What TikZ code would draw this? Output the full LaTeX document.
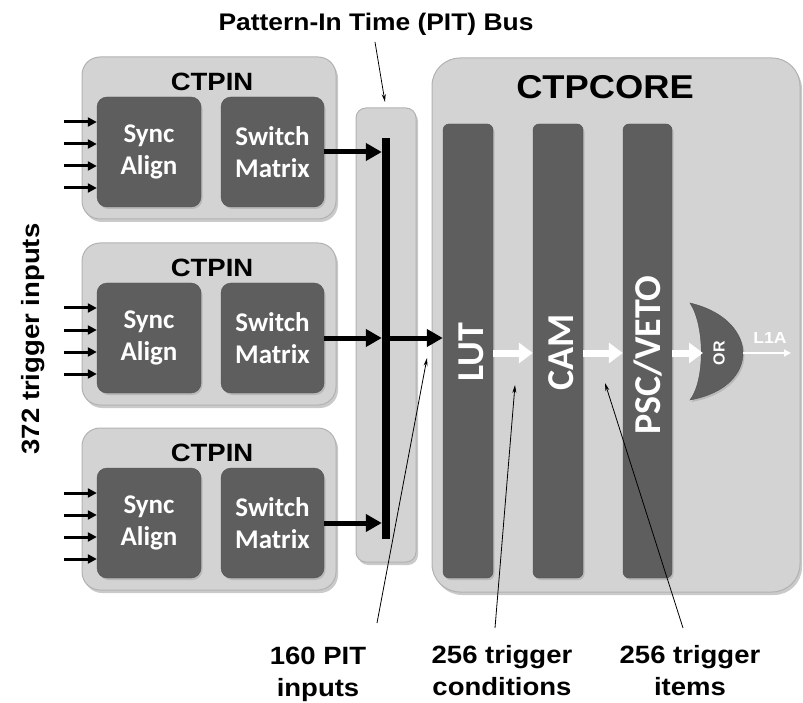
\documentclass[tikz,border=0pt]{standalone}
\usepackage{fontspec}
\setmainfont{Liberation Sans}
\newfontfamily\calfont{Carlito}
\newfontfamily\widefont{Liberation Sans}[FakeStretch=1.1]
\usetikzlibrary{arrows.meta,shadows}
\definecolor{panel}{HTML}{D3D3D3}
\definecolor{paneledge}{HTML}{B2B2B2}
\definecolor{block}{HTML}{5E5E5E}
\definecolor{blockedge}{HTML}{505050}

\begin{document}
\begin{tikzpicture}[x=1pt,y=-1pt,
  panelbox/.style={draw=paneledge, line width=1pt, fill=panel, inner sep=0pt,
    drop shadow={shadow xshift=2pt, shadow yshift=-3pt, opacity=0.35, fill=black!60}},
  blockbox/.style={draw=blockedge, fill=block, rounded corners=10pt, inner sep=0pt,
    text=white, align=center, font=\calfont\bfseries\fontsize{27}{32}\selectfont,
    drop shadow={shadow xshift=1.5pt, shadow yshift=-2pt, opacity=0.3}},
  colbox/.style={draw=blockedge, fill=block, rounded corners=6pt, inner sep=0pt,
    minimum width=50pt, minimum height=454pt,
    drop shadow={shadow xshift=1.5pt, shadow yshift=-2pt, opacity=0.3}},
  coltext/.style={rotate=90, text=white, inner sep=0pt,
    font=\calfont\bfseries\fontsize{38}{40}\selectfont},
  ctitle/.style={font=\widefont\bfseries\fontsize{25}{28}\selectfont},
  lbl/.style={font=\widefont\bfseries\fontsize{25}{32}\selectfont, align=center},
  inarrow/.style={line width=3pt, -{Triangle[length=9pt,width=9pt]}},
  busarrow/.style={line width=5pt, -{Triangle[length=16pt,width=17pt]}},
  flow/.style={white, line width=7pt, -{Triangle[length=14pt,width=20pt]}},
  pointer/.style={line width=0.8pt, -{Stealth[length=8pt,width=4pt]}},
]
\useasboundingbox (0,0) rectangle (803,703);

% ---- PIT bus and the core panel ----
\node[panelbox, rounded corners=10pt, minimum width=60pt, minimum height=454pt] (pit) at (386,335) {};
\node[fill=black, inner sep=0pt, minimum width=8pt, minimum height=401pt] (bar) at (386,338.5) {};

\node[panelbox, rounded corners=28pt, minimum width=368pt, minimum height=534pt] (core) at (616,325) {};
\node[font=\widefont\bfseries\fontsize{33}{36}\selectfont] (coretitle) at (605,87) {CTPCORE};

% ---- CTPIN modules ----
\foreach \i/\dy in {1/0,2/186,3/371}{
  \node[panelbox, rounded corners=18pt, minimum width=254pt, minimum height=162pt] (in\i) at (209,138+\dy) {};
  \node[ctitle] (in\i t) at (212,82+\dy) {CTPIN};
  \node[blockbox, minimum width=104pt, minimum height=110pt] (sa\i) at (149,152+\dy) {Sync\\Align};
  \node[blockbox, minimum width=103pt, minimum height=110pt] (sm\i) at (272.5,152+\dy) {Switch\\Matrix};
  \foreach \k [count=\n] in {-30,-8,14,36}{
    \coordinate (src\i\n) at (64,152+\dy+\k);
    \draw[inarrow] (src\i\n) -- (src\i\n -| sa\i.west);
  }
  \draw[busarrow] (sm\i.east) -- (sm\i.east -| bar.west);
}

% ---- core pipeline ----
\node[colbox] (lut) at (468,351) {};
\node[colbox] (cam) at (558,351) {};
\node[colbox, minimum width=49pt] (psc) at (647.5,351) {};
\node[coltext] at (471,352) {LUT};
\node[coltext] at (561,352) {CAM};
\node[coltext] at (648,355) {PSC/VETO};

\draw[busarrow] (sm2.east -| bar.east) -- (sm2.east -| lut.west);

\path[draw=blockedge, fill=block, drop shadow={shadow xshift=1.5pt, shadow yshift=-2pt, opacity=0.3}]
  (690,303) .. controls (728,312) and (743,335) .. (743,353)
  .. controls (743,372) and (728,393) .. (690,400)
  .. controls (705,380) and (705,326) .. (690,303) -- cycle;
\node[rotate=90, text=white, font=\bfseries\fontsize{16}{17}\selectfont] (orgate) at (719,353) {OR};
\coordinate (orin) at (703,353);
\coordinate (orout) at (743,353);
\coordinate (l1a) at (791,353);

\draw[flow] ([yshift=-2pt]lut.east) -- ([yshift=-2pt]cam.west);
\draw[flow] ([yshift=-2pt]cam.east) -- ([yshift=-2pt]psc.west);
\draw[flow] ([yshift=-2pt]psc.east) -- (orin);
\draw[white, line width=2pt, -{Triangle[length=7pt,width=7pt]}] (orout) -- (l1a);
\node[text=white, font=\widefont\bfseries\fontsize{16}{18}\selectfont] (l1atext) at (770,338) {L1A};

% ---- labels and pointers ----
\node[lbl, font=\widefont\bfseries\fontsize{24}{28}\selectfont] (pitlbl) at (376,24) {Pattern-In Time (PIT) Bus};
\node[lbl, rotate=90] (trig) at (33,339) {372 trigger inputs};
\node[lbl] (pitin) at (318,674) {160 PIT\\inputs};
\node[lbl] (cond) at (502,671) {256 trigger\\conditions};
\node[lbl] (items) at (690,671) {256 trigger\\items};

\coordinate (p1a) at (375,42);  \coordinate (p1b) at (385,102);
\coordinate (p2a) at (377,623); \coordinate (p2b) at (427,358);
\coordinate (p3a) at (495,628); \coordinate (p3b) at (515,385);
\coordinate (p4a) at (683,628); \coordinate (p4b) at (605,383);
\draw[pointer] (p1a) -- (p1b);
\draw[pointer] (p2a) -- (p2b);
\draw[pointer] (p3a) -- (p3b);
\draw[pointer] (p4a) -- (p4b);
\end{tikzpicture}
\end{document}
